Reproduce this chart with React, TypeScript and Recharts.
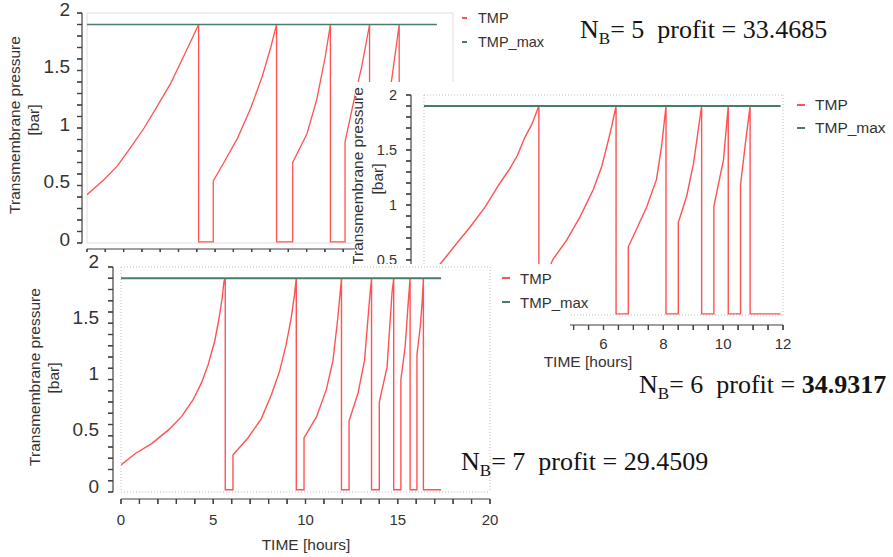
import React from 'react';
import { LineChart, Line, XAxis, YAxis, CartesianGrid, Legend } from 'recharts';

const SANS = '"Liberation Sans", Arial, Helvetica, sans-serif';
const SERIF = '"Liberation Serif", "Times New Roman", Times, serif';
const RED = '#ff5252';
const GREEN = '#4a7c6a';
const AXIS = '#404040';
const TEXT = '#333333';

// ---------------- data ----------------
const SERIES_NAMES = ['TMP', 'TMP_max'];
const Y_TITLE = ['Transmembrane pressure', '[bar]'];
const X_TITLE = 'TIME [hours]';
const NB = [5, 6, 7];
const PROFIT = ['33.4685', '34.9317', '29.4509'];
const TMP_MAX_VALUE = [1.9, 1.9];

const Y_MINOR = [0, 0.1, 0.2, 0.3, 0.4, 0.5, 0.6, 0.7, 0.8, 0.9, 1, 1.1, 1.2, 1.3, 1.4, 1.5, 1.6, 1.7, 1.8, 1.9, 2];
const Y_MAJOR = [0, 0.5, 1, 1.5, 2];

// N_B = 5
const C1_X_MINOR = [0, 0.5, 1, 1.5, 2, 2.5, 3, 3.5, 4, 4.5, 5, 5.5, 6, 6.5, 7, 7.5, 8, 8.5, 9, 9.5, 10];
const C1_X_GRID = [0, 2, 4, 6, 8, 10];
const C1_X_LABELS: number[] = []; // hidden behind the other plots in the reference
const C1_TIME = [0, 0.46, 0.83, 1.19, 1.56, 1.92, 2.29, 2.56, 2.83, 3.05, 3.05, 3.45, 3.45, 3.74, 4.11, 4.47, 4.79, 5.02, 5.18, 5.18, 5.62, 5.62, 6.01, 6.28, 6.51, 6.65, 6.65, 7.05, 7.05, 7.28, 7.51, 7.72, 7.72, 8.12, 8.12, 8.32, 8.53, 8.53, 9.56];
const C1_TMP = [0.42, 0.55, 0.67, 0.83, 1.0, 1.19, 1.39, 1.57, 1.75, 1.9, 0.01, 0.01, 0.54, 0.70, 0.91, 1.17, 1.45, 1.70, 1.9, 0.01, 0.01, 0.70, 0.95, 1.25, 1.62, 1.90, 0.01, 0.01, 0.88, 1.22, 1.54, 1.90, 0.01, 0.01, 1.05, 1.41, 1.90, 0.01, 0.01];
const C1_MAX_TIME = [0, 9.56];

// N_B = 6
const C2_X_MINOR = [0, 0.5, 1, 1.5, 2, 2.5, 3, 3.5, 4, 4.5, 5, 5.5, 6, 6.5, 7, 7.5, 8, 8.5, 9, 9.5, 10, 10.5, 11, 11.5, 12];
const C2_X_GRID = [0, 2, 4, 6, 8, 10, 12];
const C2_X_LABELS = [6, 8, 10, 12];
const C2_TIME = [0, 0.65, 1.09, 1.54, 2.04, 2.54, 2.87, 3.12, 3.38, 3.6, 3.84, 3.84, 4.25, 4.25, 4.32, 4.77, 5.21, 5.66, 5.94, 6.11, 6.27, 6.42, 6.42, 6.83, 6.83, 7.44, 7.77, 7.94, 8.09, 8.09, 8.5, 8.5, 8.78, 9.01, 9.28, 9.28, 9.69, 9.69, 10.01, 10.17, 10.17, 10.58, 10.58, 10.73, 10.9, 10.9, 11.92];
const C2_TMP = [0.28, 0.5, 0.65, 0.8, 0.98, 1.2, 1.33, 1.45, 1.62, 1.73, 1.9, 0.01, 0.01, 0.47, 0.51, 0.68, 0.89, 1.14, 1.35, 1.53, 1.71, 1.9, 0.01, 0.01, 0.62, 0.98, 1.23, 1.53, 1.9, 0.01, 0.01, 0.84, 1.08, 1.38, 1.9, 0.01, 0.01, 0.99, 1.41, 1.9, 0.01, 0.01, 1.18, 1.53, 1.9, 0.01, 0.01];
const C2_MAX_TIME = [0, 11.92];

// N_B = 7
const C3_X_MINOR = [0, 1, 2, 3, 4, 5, 6, 7, 8, 9, 10, 11, 12, 13, 14, 15, 16, 17, 18, 19, 20];
const C3_X_GRID = [0, 5, 10, 15, 20];
const C3_X_LABELS = [0, 5, 10, 15, 20];
const C3_TIME = [0, 0.76, 1.66, 2.56, 3.28, 3.91, 4.36, 4.72, 5.08, 5.31, 5.48, 5.58, 5.65, 5.65, 6.07, 6.07, 6.88, 7.6, 8.14, 8.59, 8.95, 9.22, 9.4, 9.5, 9.5, 9.92, 9.92, 10.6, 11.13, 11.49, 11.76, 11.95, 11.95, 12.36, 12.36, 12.85, 13.2, 13.48, 13.58, 13.58, 14.0, 14.0, 14.42, 14.69, 14.78, 14.78, 15.17, 15.17, 15.4, 15.58, 15.67, 15.67, 16.04, 16.04, 16.22, 16.32, 16.39, 16.39, 17.35];
const C3_TMP = [0.24, 0.34, 0.43, 0.55, 0.67, 0.82, 0.97, 1.13, 1.34, 1.54, 1.72, 1.87, 1.9, 0.02, 0.02, 0.33, 0.48, 0.65, 0.86, 1.07, 1.31, 1.54, 1.75, 1.9, 0.02, 0.02, 0.48, 0.67, 0.91, 1.17, 1.56, 1.9, 0.02, 0.02, 0.63, 0.88, 1.17, 1.73, 1.9, 0.02, 0.02, 0.8, 1.11, 1.77, 1.9, 0.02, 0.02, 1.0, 1.29, 1.71, 1.9, 0.02, 0.02, 1.22, 1.47, 1.68, 1.9, 0.02, 0.02];
const C3_MAX_TIME = [0, 17.35];

type Pt = { t: number; v: number };
const zip = (t: number[], v: number[]): Pt[] => t.map((x, i) => ({ t: x, v: v[i] }));

// ---------------- layout / style ----------------
interface Cfg {
  left: number; top: number; width: number; height: number;
  margin: { top: number; right: number; bottom: number; left: number };
  yW: number; yGap: number; xH: number; xGap: number;
  xDomain: [number, number]; xMinor: number[]; xGrid: number[]; xLabels: number[];
  yFont: number; yTickMargin: number; yLabelDy: number; xFont: number; xTickMargin: number;
  gridColor: string; gridDash?: string;
  tmpW: number; maxW: number;
  legend: { left: number; top: number; font: number; dash: number; gap: number; rowH: number };
  yTitle: { x1: number; x2: number; cy1: number; cy2: number; font: number };
  xTitle?: { cx: number; cy: number; font: number };
  z: number; clip?: string;
}

const TICK = 5;

const CFG1: Cfg = {
  left: 0, top: 0, width: 560, height: 300,
  margin: { top: 13, right: 107, bottom: 0, left: 0 },
  yW: 82, yGap: 5, xH: 51, xGap: 6,
  xDomain: [0, 10], xMinor: C1_X_MINOR, xGrid: C1_X_GRID, xLabels: C1_X_LABELS,
  yFont: 19, yTickMargin: 7, yLabelDy: -4, xFont: 15, xTickMargin: 8,
  gridColor: '#e0e0e0',
  tmpW: 1.3, maxW: 1.6,
  legend: { left: 462, top: 6, font: 14.5, dash: 5, gap: 11, rowH: 24 },
  yTitle: { x1: 15, x2: 34, cy1: 125, cy2: 120, font: 15.5 },
  z: 1,
};

const CFG2: Cfg = {
  left: 355, top: 82, width: 538, height: 290,
  margin: { top: 13, right: 110, bottom: 0, left: 0 },
  yW: 56, yGap: 13, xH: 47, xGap: 10,
  xDomain: [0, 12], xMinor: C2_X_MINOR, xGrid: C2_X_GRID, xLabels: C2_X_LABELS,
  yFont: 14.5, yTickMargin: 9, yLabelDy: 0, xFont: 15, xTickMargin: 8,
  gridColor: '#bdbdbd', gridDash: '1 2',
  tmpW: 1.4, maxW: 2,
  legend: { left: 442, top: 11.5, font: 15.5, dash: 8, gap: 10, rowH: 23 },
  yTitle: { x1: 3, x2: 23, cy1: 94, cy2: 97, font: 15.5 },
  xTitle: { cx: 233, cy: 280, font: 15.5 },
  z: 2,
};

const CFG3: Cfg = {
  left: 0, top: 252, width: 600, height: 305,
  margin: { top: 15, right: 110, bottom: 0, left: 0 },
  yW: 113, yGap: 8, xH: 58, xGap: 7,
  xDomain: [0, 20], xMinor: C3_X_MINOR, xGrid: C3_X_GRID, xLabels: C3_X_LABELS,
  yFont: 19, yTickMargin: 9, yLabelDy: -6, xFont: 15, xTickMargin: 10,
  gridColor: '#bdbdbd', gridDash: '1 2',
  tmpW: 1.4, maxW: 2,
  legend: { left: 502, top: 14, font: 15, dash: 8, gap: 10, rowH: 24 },
  yTitle: { x1: 35, x2: 54, cy1: 125, cy2: 126, font: 15.5 },
  xTitle: { cx: 306, cy: 293, font: 15.5 },
  z: 3,
  clip: 'polygon(0px 0px, 352px 0px, 352px 12px, 595px 12px, 595px 60px, 570px 60px, 570px 100px, 540px 100px, 540px 305px, 0px 305px)',
};

const near = (list: number[], v: number) => list.some((m) => Math.abs(m - v) < 1e-6);

function Panel({ cfg, tmp, max }: { cfg: Cfg; tmp: Pt[]; max: Pt[] }) {
  const yTick = (p: any) => {
    const v = Math.round(p.payload.value * 10) / 10;
    const x0 = p.x + cfg.yTickMargin;
    return (
      <g>
        <path d={`M${x0},${p.y}H${x0 + TICK}`} stroke={AXIS} strokeWidth={1.2} fill="none" />
        {near(Y_MAJOR, v) && (
          <text x={p.x} y={p.y + cfg.yLabelDy} dy="0.35em" textAnchor="end" fontSize={cfg.yFont} fontFamily={SANS} fill={TEXT} stroke="none">
            {v}
          </text>
        )}
      </g>
    );
  };
  const xTick = (p: any) => {
    const v = Math.round(p.payload.value * 10) / 10;
    const y0 = p.y - cfg.xTickMargin;
    return (
      <g>
        <path d={`M${p.x},${y0 - TICK}V${y0}`} stroke={AXIS} strokeWidth={1.2} fill="none" />
        {near(cfg.xLabels, v) && (
          <text x={p.x} y={p.y} dy="0.71em" textAnchor="middle" fontSize={cfg.xFont} fontFamily={SANS} fill={TEXT} stroke="none">
            {v}
          </text>
        )}
      </g>
    );
  };
  const L = cfg.legend;
  const legendContent = (props: any) => (
    <div style={{ fontFamily: SANS, fontSize: L.font, color: TEXT }}>
      {(props.payload || []).map((e: any) => (
        <div key={e.value} style={{ display: 'flex', alignItems: 'center', height: L.rowH, whiteSpace: 'nowrap' }}>
          <span style={{ display: 'inline-block', width: L.dash, height: 2, background: e.color, marginRight: L.gap }} />
          <span>{e.value}</span>
        </div>
      ))}
    </div>
  );
  const T = cfg.yTitle;
  const rot = (x: number, y: number, text: string) => (
    <div
      style={{
        position: 'absolute', left: x, top: y,
        transform: 'translate(-50%, -50%) rotate(-90deg)', fontFamily: SANS, fontSize: T.font,
        lineHeight: '18px', whiteSpace: 'nowrap', color: TEXT,
      }}
    >
      {text}
    </div>
  );

  return (
    <div
      style={{
        position: 'absolute', left: cfg.left, top: cfg.top, width: cfg.width, height: cfg.height,
        background: '#ffffff', zIndex: cfg.z, clipPath: cfg.clip,
      }}
    >
      <LineChart width={cfg.width} height={cfg.height} margin={cfg.margin}>
        <CartesianGrid xAxisId="g" yAxisId="g" stroke={cfg.gridColor} strokeDasharray={cfg.gridDash} />
        <XAxis xAxisId="g" type="number" dataKey="t" domain={cfg.xDomain} ticks={cfg.xGrid} interval={0}
          height={cfg.xGap} tick={false} axisLine={false} tickLine={false} allowDataOverflow />
        <XAxis xAxisId="v" type="number" dataKey="t" domain={cfg.xDomain} ticks={cfg.xMinor} interval={0}
          height={cfg.xH} stroke={AXIS} tickSize={TICK} tickMargin={cfg.xTickMargin}
          tickLine={{ stroke: AXIS, strokeWidth: 1.2 }} axisLine={{ stroke: AXIS, strokeWidth: 1.2 }} tick={xTick} allowDataOverflow />
        <YAxis yAxisId="g" type="number" domain={[0, 2]} ticks={Y_MAJOR} interval={0}
          width={cfg.yGap} tick={false} axisLine={false} tickLine={false} allowDataOverflow />
        <YAxis yAxisId="v" type="number" domain={[0, 2]} ticks={Y_MINOR} interval={0}
          width={cfg.yW} stroke={AXIS} tickSize={TICK} tickMargin={cfg.yTickMargin}
          tickLine={{ stroke: AXIS, strokeWidth: 1.2 }} axisLine={{ stroke: AXIS, strokeWidth: 1.2 }} tick={yTick} allowDataOverflow />
        <Line xAxisId="v" yAxisId="v" data={tmp} dataKey="v" name={SERIES_NAMES[0]} type="linear"
          stroke={RED} strokeWidth={cfg.tmpW} dot={false} activeDot={false} isAnimationActive={false} />
        <Line xAxisId="v" yAxisId="v" data={max} dataKey="v" name={SERIES_NAMES[1]} type="linear"
          stroke={GREEN} strokeWidth={cfg.maxW} dot={false} activeDot={false} isAnimationActive={false} />
        <Legend layout="vertical" align="center" verticalAlign="middle" content={legendContent}
          wrapperStyle={{ left: L.left, top: L.top, width: 120 }} />
      </LineChart>
      {rot(T.x1, T.cy1, Y_TITLE[0])}
      {rot(T.x2, T.cy2, Y_TITLE[1])}
      {cfg.xTitle && (
        <div
          style={{
            position: 'absolute', left: cfg.xTitle.cx, top: cfg.xTitle.cy, transform: 'translate(-50%, -50%)',
            fontFamily: SANS, fontSize: cfg.xTitle.font, whiteSpace: 'nowrap', color: TEXT,
          }}
        >
          {X_TITLE}
        </div>
      )}
    </div>
  );
}

function Annot({ left, top, n, profit, bold }: { left: number; top: number; n: number; profit: string; bold?: boolean }) {
  return (
    <div
      style={{
        position: 'absolute', left, top, fontFamily: SERIF, fontSize: 26, lineHeight: '26px',
        whiteSpace: 'pre', color: '#141414', zIndex: 10,
      }}
    >
      N<span style={{ fontSize: 17, position: 'relative', top: 6 }}>B</span>{`= ${n}  profit = `}
      <span style={{ fontWeight: bold ? 700 : 400 }}>{profit}</span>
    </div>
  );
}

export default function App() {
  const tmp1 = zip(C1_TIME, C1_TMP);
  const max1 = zip(C1_MAX_TIME, TMP_MAX_VALUE);
  const tmp2 = zip(C2_TIME, C2_TMP);
  const max2 = zip(C2_MAX_TIME, TMP_MAX_VALUE);
  const tmp3 = zip(C3_TIME, C3_TMP);
  const max3 = zip(C3_MAX_TIME, TMP_MAX_VALUE);
  return (
    <div style={{ position: 'absolute', left: 0, top: 0, width: 893, height: 557, background: '#fff', overflow: 'hidden' }}>
      <Panel cfg={CFG1} tmp={tmp1} max={max1} />
      <Panel cfg={CFG2} tmp={tmp2} max={max2} />
      <Panel cfg={CFG3} tmp={tmp3} max={max3} />
      <Annot left={580} top={17} n={NB[0]} profit={PROFIT[0]} />
      <Annot left={639} top={372} n={NB[1]} profit={PROFIT[1]} bold />
      <Annot left={461} top={449} n={NB[2]} profit={PROFIT[2]} />
    </div>
  );
}
